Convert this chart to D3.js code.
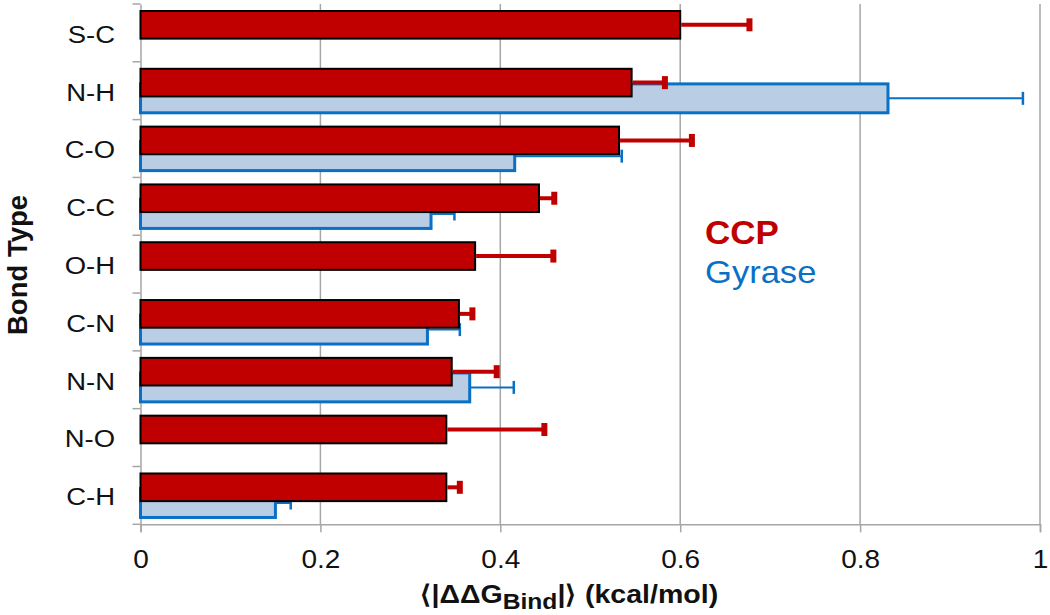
<!DOCTYPE html>
<html><head><meta charset="utf-8">
<script src="https://cdn.jsdelivr.net/npm/d3@7"></script>
<style>body{margin:0;background:#fff}svg{display:block}text{font-family:"Liberation Sans",Arial,sans-serif}</style>
</head><body>
<svg id="c" width="1050" height="615"></svg>
<script>
const categories = ["S-C","N-H","C-O","C-C","O-H","C-N","N-N","N-O","C-H"];
const ccpValues  = [0.600,0.546,0.532,0.443,0.372,0.354,0.346,0.340,0.340];
const ccpErrors  = [0.077,0.037,0.081,0.017,0.087,0.015,0.050,0.109,0.015];
const gyrValues  = [null,0.831,0.416,0.323,null,0.319,0.366,null,0.150];
const gyrErrors  = [null,0.150,0.119,0.026,null,0.036,0.049,null,0.017];
const xTicks = [0,0.2,0.4,0.6,0.8,1];
const xTickLabels = ["0","0.2","0.4","0.6","0.8","1"];

const RED="#c00000", BLUE="#0a70c6", LBLUE="#b9cde5", GRID="#a6a6a6", TXT="#111";
const SX=1.12; // horizontal stretch of the text in the reference
const svg=d3.select("#c");
const x=d3.scaleLinear().domain([0,1]).range([140.5,1040]);
const y=d3.scaleBand().domain(categories).range([4,524.3]).padding(0);
const bw=y.bandwidth();

// gridlines
svg.append("g").selectAll("line").data(xTicks.slice(1)).join("line")
  .attr("x1",d=>x(d)).attr("x2",d=>x(d)).attr("y1",4).attr("y2",524.3)
  .attr("stroke",GRID).attr("stroke-width",1.5);

// x axis
const xa=svg.append("g").attr("transform","translate(0,524.3)")
  .call(d3.axisBottom(x).tickValues(xTicks).tickFormat((d,i)=>xTickLabels[i]).tickSize(8).tickPadding(18));
xa.select(".domain").attr("stroke",GRID).attr("stroke-width",1.5);
xa.selectAll(".tick line").attr("stroke",GRID).attr("stroke-width",1.5);
xa.selectAll(".tick text").attr("font-size",25).attr("fill",TXT)
  .attr("font-family","Liberation Sans, Arial, sans-serif")
  .attr("transform",`scale(${SX},1)`);

// y axis
const ya=svg.append("g").attr("transform","translate(140.5,0)")
  .call(d3.axisLeft(y).tickSize(0).tickFormat(""));
ya.select(".domain").attr("stroke",GRID).attr("stroke-width",1.5);
const bounds=categories.map(c=>y(c)).concat([y(categories[categories.length-1])+bw]);
svg.append("g").selectAll("line").data(bounds).join("line")
  .attr("x1",132.5).attr("x2",140.5).attr("y1",d=>d).attr("y2",d=>d)
  .attr("stroke",GRID).attr("stroke-width",1.5);
// category labels
svg.append("g").selectAll("text").data(categories).join("text")
  .attr("transform",d=>`translate(115,${y(d)+bw/2+1}) scale(${SX},1)`)
  .attr("text-anchor","end").attr("dy","0.36em").attr("font-size",24.5).attr("fill",TXT)
  .text(d=>d);

const gyr=categories.map((c,i)=>({c,v:gyrValues[i],e:gyrErrors[i]})).filter(d=>d.v!==null);
const ccp=categories.map((c,i)=>({c,v:ccpValues[i],e:ccpErrors[i]}));

const bTop=0.382, bH=0.50, rTop=0.121, rH=0.478;
// gyrase bars
svg.append("g").selectAll("rect").data(gyr).join("rect")
  .attr("x",x(0)).attr("y",d=>y(d.c)+bw*bTop).attr("width",d=>x(d.v)-x(0)).attr("height",bw*bH)
  .attr("fill",LBLUE).attr("stroke",BLUE).attr("stroke-width",3);
// gyrase error bars
const ge=svg.append("g").selectAll("g").data(gyr).join("g");
ge.append("line").attr("x1",d=>x(d.v)).attr("x2",d=>x(d.v+d.e))
  .attr("y1",d=>y(d.c)+bw*(bTop+bH/2)).attr("y2",d=>y(d.c)+bw*(bTop+bH/2))
  .attr("stroke",BLUE).attr("stroke-width",2);
ge.append("line").attr("x1",d=>x(d.v+d.e)).attr("x2",d=>x(d.v+d.e))
  .attr("y1",d=>y(d.c)+bw*(bTop+bH/2)-6.5).attr("y2",d=>y(d.c)+bw*(bTop+bH/2)+6.5)
  .attr("stroke",BLUE).attr("stroke-width",2.5);

// ccp bars
svg.append("g").selectAll("rect").data(ccp).join("rect")
  .attr("x",x(0)).attr("y",d=>y(d.c)+bw*rTop).attr("width",d=>x(d.v)-x(0)).attr("height",bw*rH)
  .attr("fill",RED).attr("stroke","#000").attr("stroke-width",2);
// ccp error bars
const re=svg.append("g").selectAll("g").data(ccp).join("g");
re.append("line").attr("x1",d=>x(d.v)+1).attr("x2",d=>x(d.v+d.e))
  .attr("y1",d=>y(d.c)+bw*(rTop+rH/2)).attr("y2",d=>y(d.c)+bw*(rTop+rH/2))
  .attr("stroke",RED).attr("stroke-width",4);
re.append("rect").attr("x",d=>x(d.v+d.e)-3).attr("width",6)
  .attr("y",d=>y(d.c)+bw*(rTop+rH/2)-6.5).attr("height",13).attr("fill",RED);

// legend
svg.append("text").attr("transform","translate(705,244) scale(1.06,1)").attr("font-size",33)
  .attr("font-weight","bold").attr("fill",RED).text("CCP");
svg.append("text").attr("transform","translate(705,283) scale(1.08,1)").attr("font-size",32)
  .attr("fill",BLUE).text("Gyrase");

// axis titles
const t=svg.append("text").attr("transform",`translate(569,603) scale(${SX},1)`)
  .attr("text-anchor","middle").attr("font-size",25.5).attr("font-weight","bold").attr("fill",TXT);
t.append("tspan").text("⟨|ΔΔG");
t.append("tspan").attr("font-size",22).attr("dy",5.5).text("Bind");
t.append("tspan").attr("dy",-5.5).text("|⟩ (kcal/mol)");

svg.append("text").attr("transform","translate(27,265) rotate(-90)").attr("text-anchor","middle")
  .attr("font-size",27.5).attr("font-weight","bold").attr("fill",TXT).text("Bond Type");
</script>
</body></html>
